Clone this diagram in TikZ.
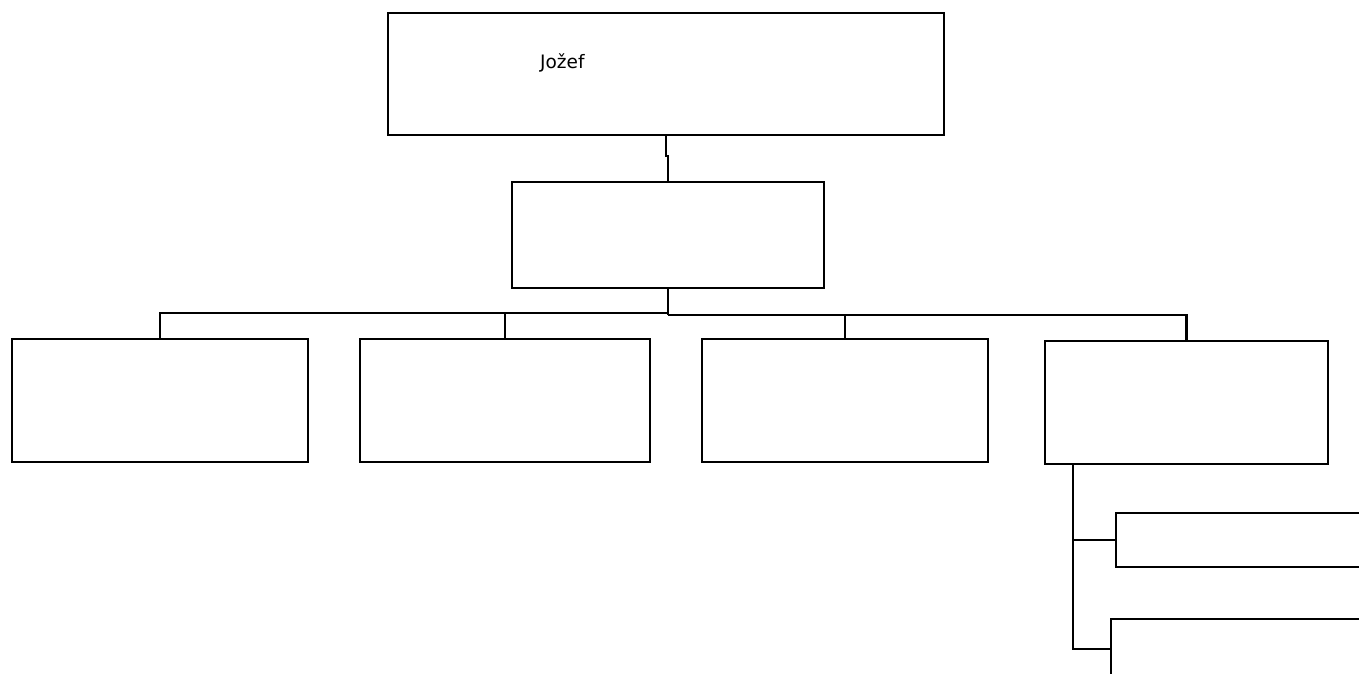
\documentclass[tikz,border=0pt]{standalone}
\usepackage{fontspec}
\setmainfont{DejaVu Sans}
\begin{document}
\begin{tikzpicture}[x=1pt,y=-1pt,
  box/.style={draw=black,line width=2.4pt,rectangle,inner sep=0pt,fill=white},
  conn/.style={draw=black,line width=2.4pt}]
\useasboundingbox (0,0) rectangle (1359,673);
\clip (0,0) rectangle (1359,673);
\fill[white] (0,0) rectangle (1359,673);
\node[box,minimum width=556pt,minimum height=122pt] (top) at (666,74) {};
\node[anchor=base west,font=\fontsize{18.5}{20}\selectfont,inner sep=0pt] (name) at (540,68) {Jožef};
\node[box,minimum width=312pt,minimum height=106pt] (mid) at (668,235) {};
\node[box,minimum width=296pt,minimum height=123pt] (b1) at (160,400.5) {};
\node[box,minimum width=290pt,minimum height=123pt] (b2) at (505,400.5) {};
\node[box,minimum width=286pt,minimum height=123pt] (b3) at (845,400.5) {};
\node[box,minimum width=283pt,minimum height=123pt] (b4) at (1186.5,402.5) {};
\node[box,minimum width=290pt,minimum height=54pt,anchor=west] (b5) at (1115,540) {};
\node[box,minimum width=290pt,minimum height=60pt,anchor=west] (b6) at (1110,649) {};
\coordinate (j) at (668,313);
\coordinate (j2) at (668,315);
\coordinate (s) at (1073,464);
\coordinate (s5) at (1073,540);
\draw[conn] (top.south) -- ++(0,20) -| (mid.north);
\draw[conn] (mid.south) -- (j2);
\draw[conn] (j) -| (b1.north);
\draw[conn] (j) -| (b2.north);
\draw[conn] (j2) -| (b3.north);
\draw[conn] (j2) -| (b4.north);
\draw[conn] (s) |- (b6.west);
\draw[conn] (s5) -- (b5.west);
\end{tikzpicture}
\end{document}
